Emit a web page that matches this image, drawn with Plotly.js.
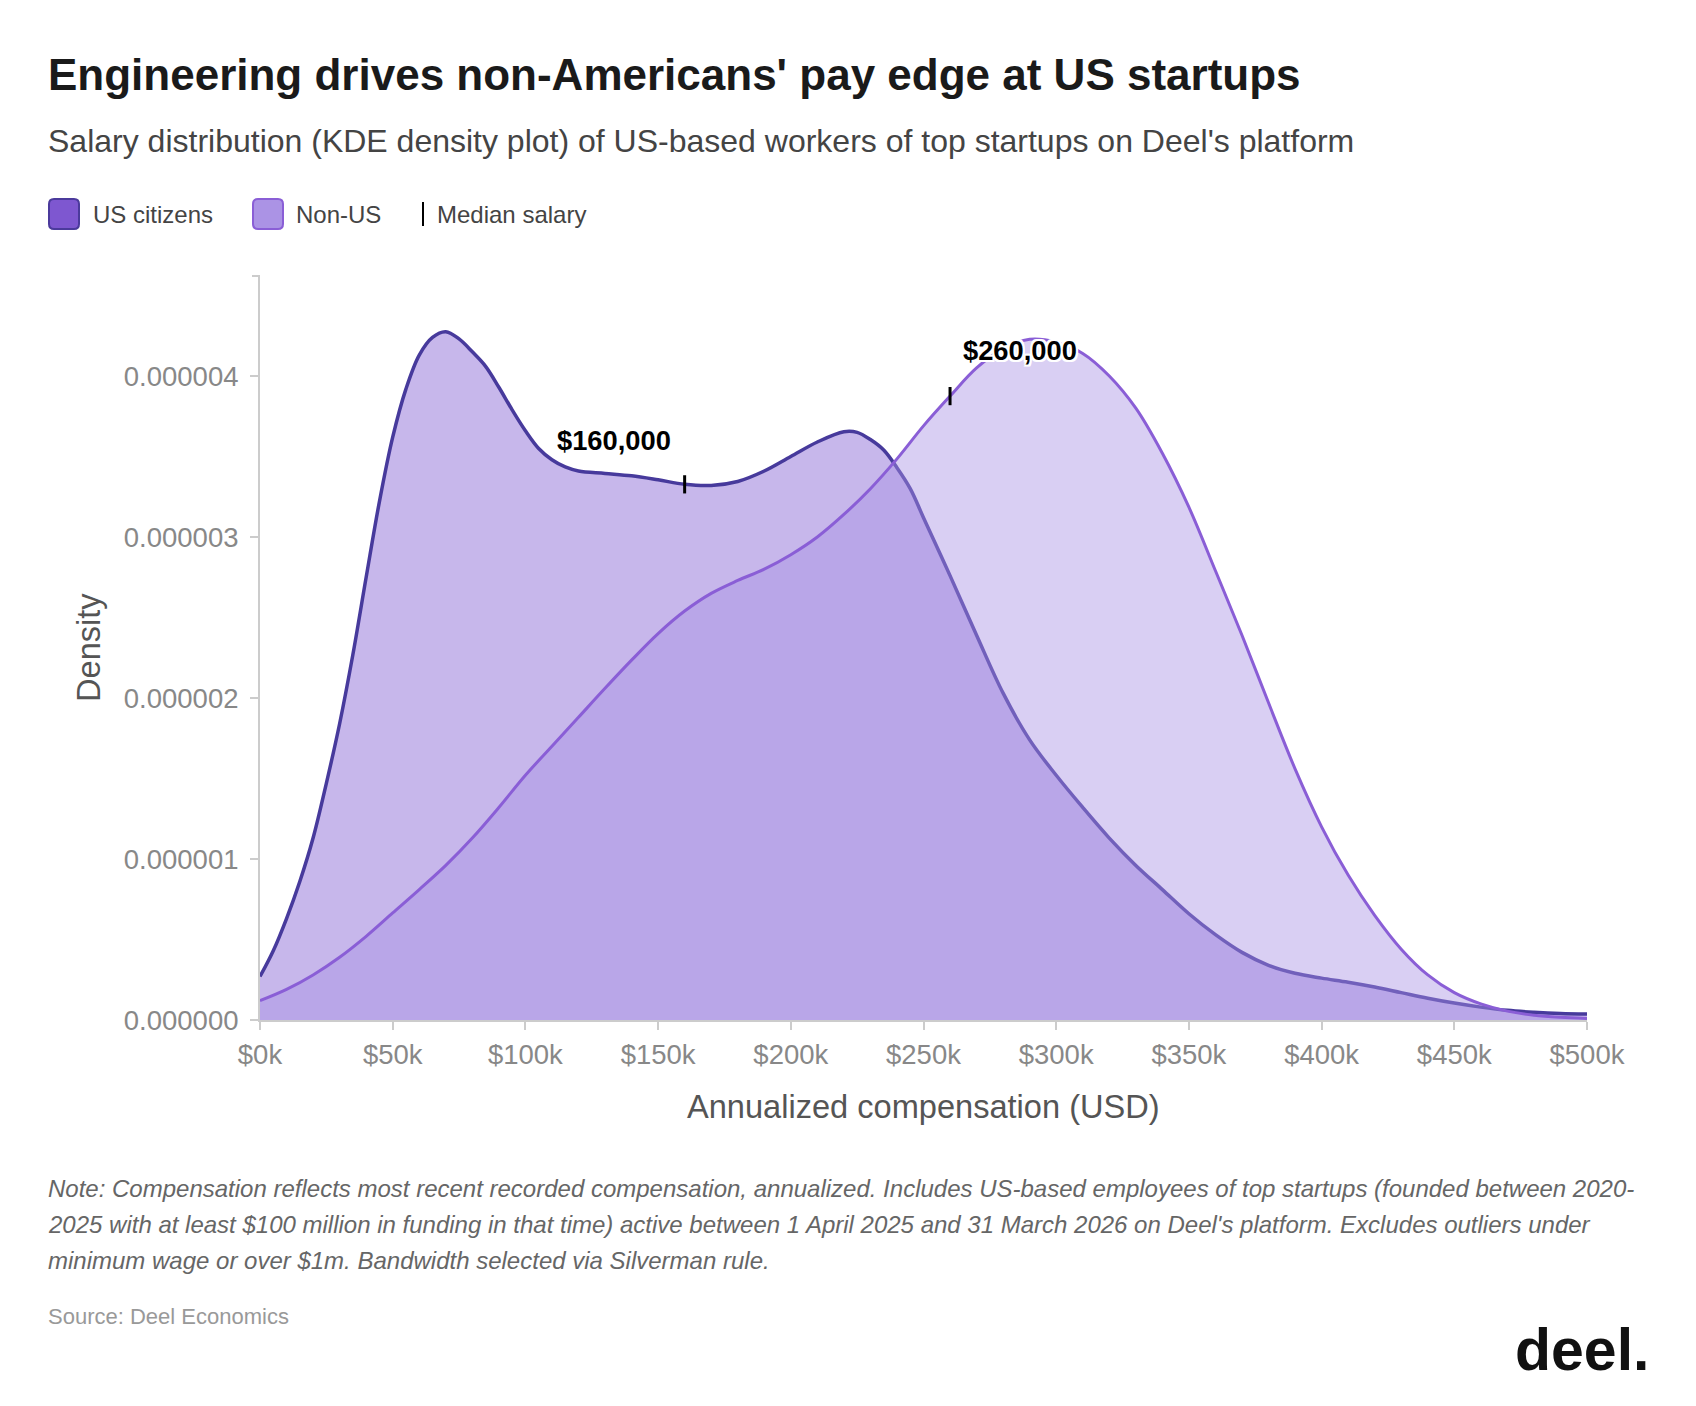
<!DOCTYPE html>
<html>
<head>
<meta charset="utf-8">
<script src="https://cdn.plot.ly/plotly-3.0.1.min.js"></script>
<style>
  html, body { margin: 0; padding: 0; background: #ffffff; }
  #chart { width: 1696px; height: 1406px; }
</style>
</head>
<body>
<div id="chart"></div>
<script>
// Kernel density estimates of annualized compensation (USD)
const usSalary = [0, 5000, 10000, 15000, 20000, 25000, 30000, 35000, 40000, 45000, 50000, 55000, 60000, 65000, 70000, 75000, 80000, 85000, 90000, 95000, 100000, 105000, 110000, 115000, 120000, 130000, 140000, 150000, 160000, 170000, 180000, 190000, 200000, 210000, 220000, 225000, 230000, 235000, 240000, 245000, 250000, 260000, 270000, 280000, 290000, 300000, 310000, 320000, 330000, 340000, 350000, 360000, 370000, 380000, 390000, 400000, 410000, 420000, 430000, 440000, 450000, 460000, 470000, 480000, 490000, 500000];
const usDensity = [0.27e-6, 0.43e-6, 0.63e-6, 0.86e-6, 1.13e-6, 1.47e-6, 1.84e-6, 2.27e-6, 2.75e-6, 3.22e-6, 3.62e-6, 3.92e-6, 4.13e-6, 4.24e-6, 4.275e-6, 4.23e-6, 4.15e-6, 4.06e-6, 3.93e-6, 3.79e-6, 3.66e-6, 3.55e-6, 3.48e-6, 3.435e-6, 3.41e-6, 3.395e-6, 3.38e-6, 3.355e-6, 3.327e-6, 3.32e-6, 3.345e-6, 3.41e-6, 3.50e-6, 3.59e-6, 3.654e-6, 3.65e-6, 3.605e-6, 3.54e-6, 3.43e-6, 3.30e-6, 3.12e-6, 2.76e-6, 2.39e-6, 2.03e-6, 1.74e-6, 1.52e-6, 1.32e-6, 1.13e-6, 0.96e-6, 0.81e-6, 0.66e-6, 0.53e-6, 0.42e-6, 0.34e-6, 0.29e-6, 0.26e-6, 0.235e-6, 0.205e-6, 0.17e-6, 0.135e-6, 0.105e-6, 0.08e-6, 0.06e-6, 0.048e-6, 0.04e-6, 0.037e-6];

const nonUsSalary = [0, 10000, 20000, 30000, 40000, 50000, 60000, 70000, 80000, 90000, 100000, 110000, 120000, 130000, 140000, 150000, 160000, 170000, 180000, 190000, 200000, 210000, 220000, 230000, 240000, 250000, 260000, 270000, 280000, 290000, 300000, 310000, 320000, 330000, 340000, 350000, 360000, 370000, 380000, 390000, 400000, 410000, 420000, 430000, 440000, 450000, 460000, 470000, 480000, 490000, 500000];
const nonUsDensity = [0.12e-6, 0.19e-6, 0.28e-6, 0.39e-6, 0.52e-6, 0.665e-6, 0.81e-6, 0.96e-6, 1.13e-6, 1.32e-6, 1.52e-6, 1.70e-6, 1.88e-6, 2.06e-6, 2.235e-6, 2.40e-6, 2.54e-6, 2.65e-6, 2.73e-6, 2.80e-6, 2.89e-6, 3.00e-6, 3.14e-6, 3.30e-6, 3.485e-6, 3.69e-6, 3.875e-6, 4.05e-6, 4.17e-6, 4.228e-6, 4.21e-6, 4.14e-6, 4.00e-6, 3.80e-6, 3.52e-6, 3.185e-6, 2.79e-6, 2.39e-6, 1.97e-6, 1.56e-6, 1.20e-6, 0.90e-6, 0.65e-6, 0.44e-6, 0.28e-6, 0.17e-6, 0.10e-6, 0.055e-6, 0.03e-6, 0.017e-6, 0.01e-6];

// Median salary of each group and the density at that salary
const groupNames = ['US citizens', 'Non-US'];
const medianSalary = [160000, 260000];
const medianDensity = [3.327e-6, 3.875e-6];

// Axis ticks
const xTickVals = [0, 50000, 100000, 150000, 200000, 250000, 300000, 350000, 400000, 450000, 500000];
const xTickText = ['$0k', '$50k', '$100k', '$150k', '$200k', '$250k', '$300k', '$350k', '$400k', '$450k', '$500k'];
const yTickVals = [0, 1e-6, 2e-6, 3e-6, 4e-6];

// Text
const titleText = "Engineering drives non-Americans' pay edge at US startups";
const subtitleText = "Salary distribution (KDE density plot) of US-based workers of top startups on Deel's platform";
const legendLabels = ['US citizens', 'Non-US', 'Median salary'];
const xTitle = 'Annualized compensation (USD)';
const yTitle = 'Density';
const noteLines = [
  'Note: Compensation reflects most recent recorded compensation, annualized. Includes US-based employees of top startups (founded between 2020-',
  "2025 with at least $100 million in funding in that time) active between 1 April 2025 and 31 March 2026 on Deel's platform. Excludes outliers under",
  'minimum wage or over $1m. Bandwidth selected via Silverman rule.'
];
const sourceText = 'Source: Deel Economics';
const logoText = 'deel.';

// Page geometry
const W = 1696, H = 1406;
const M = { l: 260, r: 109, t: 276, b: 386 };
const PW = W - M.l - M.r, PH = H - M.t - M.b;
const px = x => (x - M.l) / PW;          // page pixel -> paper x
const py = y => (M.t + PH - y) / PH;     // page pixel -> paper y

const FONT = '"Liberation Sans", Arial, Helvetica, sans-serif';

const US_LINE = '#473a9c';
const NONUS_LINE = '#8a5ed6';
const US_FILL = 'rgba(126, 87, 208, 0.43)';
const NONUS_FILL = 'rgba(168, 146, 228, 0.44)';

const traces = [
  {
    x: usSalary, y: usDensity, name: groupNames[0],
    type: 'scatter', mode: 'lines', fill: 'tozeroy', fillcolor: US_FILL,
    line: { color: US_LINE, width: 3.5, shape: 'spline', smoothing: 1 },
    hoverinfo: 'skip', showlegend: false
  },
  {
    x: nonUsSalary, y: nonUsDensity, name: groupNames[1],
    type: 'scatter', mode: 'lines', fill: 'tozeroy', fillcolor: NONUS_FILL,
    line: { color: NONUS_LINE, width: 3, shape: 'spline', smoothing: 1 },
    hoverinfo: 'skip', showlegend: false
  },
  {
    x: medianSalary, y: medianDensity, name: 'Median salary',
    type: 'scatter', mode: 'markers', cliponaxis: false,
    marker: { symbol: 'line-ns', size: 13, color: '#000', line: { color: '#000', width: 3 } },
    hoverinfo: 'skip', showlegend: false
  }
];

const halo = '2px 0 0 #fff, -2px 0 0 #fff, 0 2px 0 #fff, 0 -2px 0 #fff, 2px 2px 0 #fff, -2px -2px 0 #fff, 2px -2px 0 #fff, -2px 2px 0 #fff';
const fmtUSD = v => '$' + v.toLocaleString('en-US');
const labelShift = [[-71, 44], [70, 46]];

const annotations = [];

// Median value labels
medianSalary.forEach((v, i) => {
  annotations.push({
    x: v, y: medianDensity[i], xref: 'x', yref: 'y',
    xshift: labelShift[i][0], yshift: labelShift[i][1],
    text: fmtUSD(v), showarrow: false, xanchor: 'center', yanchor: 'middle',
    font: { family: FONT, size: 27.3, color: '#000', weight: 700, shadow: halo }
  });
});

// Subtitle
annotations.push({
  x: px(46), y: py(141), xref: 'paper', yref: 'paper', xanchor: 'left', yanchor: 'middle',
  text: subtitleText, showarrow: false,
  font: { family: FONT, size: 32, color: '#444' }
});

// Legend labels
[[90.5, 0], [293.5, 1], [434.5, 2]].forEach(([x, i]) => {
  annotations.push({
    x: px(x), y: py(214), xref: 'paper', yref: 'paper', xanchor: 'left', yanchor: 'middle',
    text: legendLabels[i], showarrow: false,
    font: { family: FONT, size: 24, color: '#444' }
  });
});

// Axis titles
annotations.push({
  x: px(923.5), y: py(1106), xref: 'paper', yref: 'paper', xanchor: 'center', yanchor: 'middle',
  text: xTitle, showarrow: false, font: { family: FONT, size: 32.6, color: '#555' }
});
annotations.push({
  x: px(88), y: py(648), xref: 'paper', yref: 'paper', xanchor: 'center', yanchor: 'middle',
  text: yTitle, textangle: -90, showarrow: false, font: { family: FONT, size: 32.6, color: '#555' }
});

// Notes
const noteY = [1188, 1224, 1260];
noteLines.forEach((t, i) => {
  annotations.push({
    x: px(46), y: py(noteY[i]), xref: 'paper', yref: 'paper', xanchor: 'left', yanchor: 'middle',
    text: t, showarrow: false,
    font: { family: FONT, size: 24, color: '#666', style: 'italic' }
  });
});

// Source
annotations.push({
  x: px(46), y: py(1316), xref: 'paper', yref: 'paper', xanchor: 'left', yanchor: 'middle',
  text: sourceText, showarrow: false, font: { family: FONT, size: 22, color: '#999' }
});

// Logo wordmark
annotations.push({
  x: px(1651), y: py(1350), xref: 'paper', yref: 'paper', xanchor: 'right', yanchor: 'middle',
  text: logoText, showarrow: false,
  font: { family: FONT, size: 59, color: '#111', weight: 700 }
});

// Rounded rectangle path in paper units from page pixels
function roundRect(x0, y0, x1, y1, r) {
  const X = px, Y = py;
  return 'M' + X(x0 + r) + ',' + Y(y0) +
    ' L' + X(x1 - r) + ',' + Y(y0) +
    ' Q' + X(x1) + ',' + Y(y0) + ' ' + X(x1) + ',' + Y(y0 + r) +
    ' L' + X(x1) + ',' + Y(y1 - r) +
    ' Q' + X(x1) + ',' + Y(y1) + ' ' + X(x1 - r) + ',' + Y(y1) +
    ' L' + X(x0 + r) + ',' + Y(y1) +
    ' Q' + X(x0) + ',' + Y(y1) + ' ' + X(x0) + ',' + Y(y1 - r) +
    ' L' + X(x0) + ',' + Y(y0 + r) +
    ' Q' + X(x0) + ',' + Y(y0) + ' ' + X(x0 + r) + ',' + Y(y0) + ' Z';
}

const shapes = [
  // legend swatches
  { type: 'path', xref: 'paper', yref: 'paper', path: roundRect(49, 199, 79, 229, 5),
    fillcolor: '#7e57d0', line: { color: '#4b3a9c', width: 2 } },
  { type: 'path', xref: 'paper', yref: 'paper', path: roundRect(253, 199, 283, 229, 5),
    fillcolor: '#ab93e5', line: { color: '#8a5ed6', width: 2 } },
  // legend median mark
  { type: 'line', xref: 'paper', yref: 'paper', x0: px(423), x1: px(423), y0: py(202), y1: py(226),
    line: { color: '#000', width: 2 } },
  // outer tick at the top of the y axis
  { type: 'line', xref: 'paper', yref: 'paper', x0: px(252), x1: px(260), y0: 1, y1: 1,
    line: { color: '#cccccc', width: 2 } }
];

const layout = {
  width: W, height: H,
  margin: M,
  paper_bgcolor: '#ffffff', plot_bgcolor: '#ffffff',
  font: { family: FONT },
  title: {
    text: titleText, xref: 'container', yref: 'container',
    x: 48 / W, xanchor: 'left', y: 1 - 75 / H, yanchor: 'middle',
    font: { family: FONT, size: 44, color: '#1a1a1a', weight: 700 }
  },
  showlegend: false,
  xaxis: {
    range: [0, 500000], tickvals: xTickVals, ticktext: xTickText,
    showgrid: false, zeroline: false,
    showline: true, linecolor: '#cccccc', linewidth: 2,
    ticks: 'outside', ticklen: 8, tickwidth: 2, tickcolor: '#cccccc',
    ticklabelstandoff: 1,
    tickfont: { family: FONT, size: 27.5, color: '#888' },
    fixedrange: true
  },
  yaxis: {
    range: [0, 4.621e-6], tickvals: yTickVals, tickformat: '.6f',
    showgrid: false, zeroline: false,
    showline: true, linecolor: '#cccccc', linewidth: 2,
    ticks: 'outside', ticklen: 8, tickwidth: 2, tickcolor: '#cccccc',
    ticklabelstandoff: 6,
    tickfont: { family: FONT, size: 27.5, color: '#888' },
    fixedrange: true
  },
  annotations: annotations,
  shapes: shapes
};

Plotly.newPlot('chart', traces, layout, { displayModeBar: false, staticPlot: true });
</script>
</body>
</html>
